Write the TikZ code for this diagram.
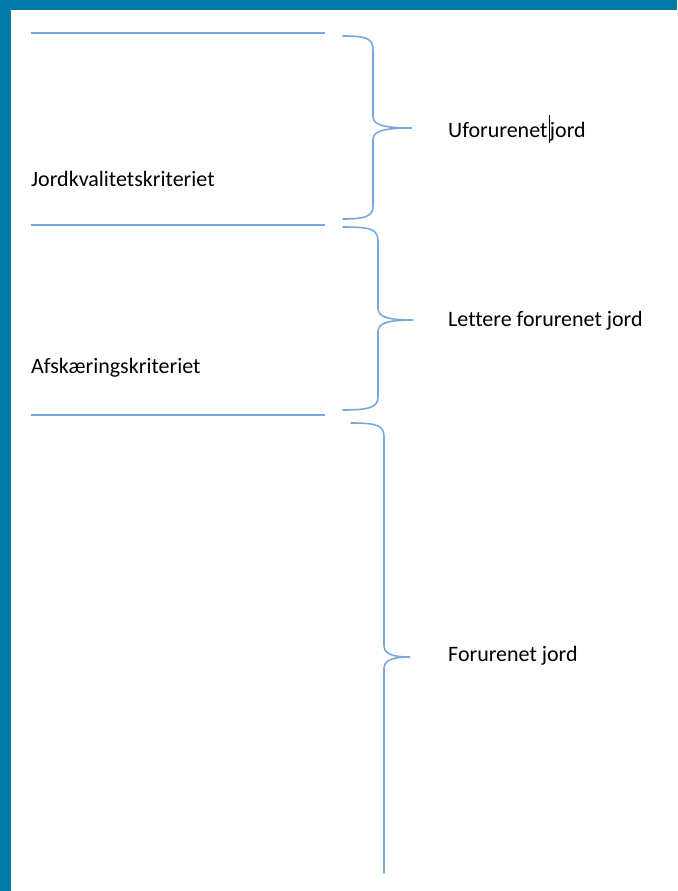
\documentclass[tikz,border=0pt]{standalone}
\usepackage{fontspec}
\setmainfont[Ligatures=NoCommon]{Carlito}
\definecolor{rammeblaa}{RGB}{0,123,167}
\definecolor{linjeblaa}{RGB}{120,168,222}
\tikzset{
  kriterie/.style={draw=linjeblaa, line width=1.6pt},
  klamme/.style={draw=linjeblaa, line width=1.6pt, line cap=round},
  tekst/.style={anchor=west, inner sep=0pt, font=\fontsize{22}{26}\selectfont}
}
\begin{document}
\begin{tikzpicture}[x=1pt,y=-1pt]
        % ramme
        \useasboundingbox (0,0) rectangle (677,891);
        \fill[rammeblaa] (0,0) rectangle (677,10);
        \fill[rammeblaa] (0,0) rectangle (11,891);

        % kriterielinjer
        \coordinate (l1a) at (31,33);  \coordinate (l1b) at (325,33);
        \coordinate (l2a) at (31,225); \coordinate (l2b) at (325,225);
        \coordinate (l3a) at (31,415); \coordinate (l3b) at (325,415);
        \draw[kriterie] (l1a) -- (l1b);
        \draw[kriterie] (l2a) -- (l2b);
        \draw[kriterie] (l3a) -- (l3b);
        \node[tekst] (jkk) at (31,179) {Jordkvalitetskriteriet};
        \node[tekst] (afk) at (31,368) {Afskæringskriteriet};

        % klamme 1
        \coordinate (k1top) at (343,36);
        \coordinate (k1spids) at (412,128);
        \coordinate (k1bund) at (343,219);
        \draw[klamme] (k1top) .. controls (366,36) and (373,38) .. (373,50) -- (373,116)
            .. controls (373,124) and (380,128) .. (k1spids)
            .. controls (380,128) and (373,132) .. (373,140) -- (373,206)
            .. controls (373,216) and (366,219) .. (k1bund);
        \node[tekst] (ufj) at (448,129) {Uforurenet\hspace{1.5pt}\rule[-0.28em]{1pt}{1.3em}jord};

        % klamme 2
        \coordinate (k2top) at (343,227);
        \coordinate (k2spids) at (413,320);
        \coordinate (k2bund) at (343,410);
        \draw[klamme] (k2top) .. controls (370,227) and (378,229) .. (378,241) -- (378,308)
            .. controls (378,316) and (385,320) .. (k2spids)
            .. controls (385,320) and (378,324) .. (378,332) -- (378,397)
            .. controls (378,407) and (370,410) .. (k2bund);
        \node[tekst] (lfj) at (448,321) {Lettere forurenet jord};

        % klamme 3
        \coordinate (k3top) at (351,423);
        \coordinate (k3spids) at (410,657);
        \coordinate (k3bund) at (384,873);
        \draw[klamme] (k3top) .. controls (376,423) and (384,425) .. (384,437) -- (384,645)
            .. controls (384,653) and (390,657) .. (k3spids)
            .. controls (390,657) and (384,661) .. (384,669) -- (k3bund);
        \node[tekst] (fj) at (448,656) {Forurenet jord};
\end{tikzpicture}
\end{document}
